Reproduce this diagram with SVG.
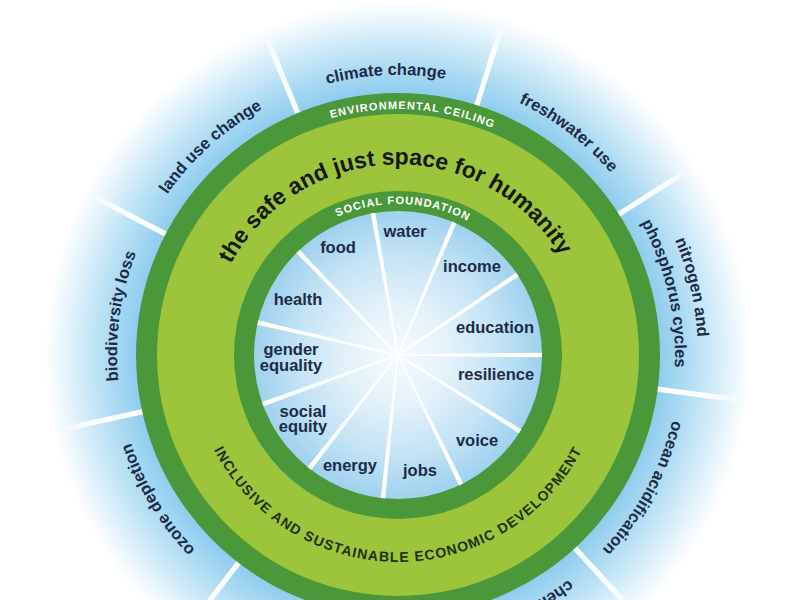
<svg xmlns="http://www.w3.org/2000/svg" width="800" height="600" viewBox="0 0 800 600">
<defs>
<style>
.lbl{font-family:"Liberation Sans",Arial,sans-serif;font-weight:bold;font-size:16.5px;fill:#1d2b47}
.ring-lbl{font-family:"Liberation Sans",Arial,sans-serif;font-weight:bold;font-size:11px;fill:#ffffff;letter-spacing:1.1px}
.big{font-family:"Liberation Sans",Arial,sans-serif;font-weight:bold;font-size:23px;fill:#141a0c}
.dev{font-family:"Liberation Sans",Arial,sans-serif;font-weight:bold;font-size:14px;fill:#1e3312;letter-spacing:1.1px}
.dark{fill:#4a983a}
.light{fill:#9cc53c}
</style>
<radialGradient id="outerG" gradientUnits="userSpaceOnUse" cx="398" cy="355" r="380">
<stop offset="0.69" stop-color="#8fcdee"/>
<stop offset="0.75" stop-color="#a9d9f2"/>
<stop offset="0.82" stop-color="#cae8f7"/>
<stop offset="0.88" stop-color="#e8f5fc"/>
<stop offset="0.93" stop-color="#ffffff"/>
</radialGradient>
<radialGradient id="innerG" gradientUnits="userSpaceOnUse" cx="398" cy="355" r="144">
<stop offset="0" stop-color="#f6fbfe"/>
<stop offset="0.35" stop-color="#e4f2fa"/>
<stop offset="0.7" stop-color="#c4e3f5"/>
<stop offset="1" stop-color="#9fd1ee"/>
</radialGradient>
<linearGradient id="sepG" x1="0" y1="1" x2="0" y2="0">
<stop offset="0" stop-color="#ffffff" stop-opacity="1"/>
<stop offset="0.7" stop-color="#ffffff" stop-opacity="0.95"/>
<stop offset="1" stop-color="#ffffff" stop-opacity="0.3"/>
</linearGradient>
<polygon id="spoke" points="-0.8,0 0.8,0 2.3,-144 -2.3,-144" fill="#ffffff"/>
<rect id="sep" x="-2.6" y="-342" width="5.2" height="84" fill="url(#sepG)"/>
<path id="p-climate" d="M247.6,118.8 A280,280 0 0 1 527.3,106.6"/>
<path id="p-fresh" d="M434.5,77.4 A280,280 0 0 1 656.7,247.8"/>
<path id="p-nitro1" d="M617.4,150.4 A300,300 0 0 1 684.9,442.7"/>
<path id="p-nitro2" d="M564.7,133.8 A277,277 0 0 1 644.8,480.8"/>
<path id="p-ocean" d="M679.9,347.6 A282,282 0 0 1 545.3,595.4"/>
<path id="p-chem" d="M621.7,526.7 A282,282 0 0 1 361.2,634.6"/>
<path id="p-ozone" d="M261.8,600.8 A281,281 0 0 1 117.0,359.9"/>
<path id="p-bio" d="M137.5,460.3 A281,281 0 0 1 176.6,182.0"/>
<path id="p-land" d="M130.8,268.2 A280,280 0 0 1 339.6,80.2"/>
<path id="p-env" d="M239.9,166.6 A246,246 0 0 1 577.9,187.2"/>
<path id="p-soc" d="M267.2,279.5 A151,151 0 0 1 533.7,288.8"/>
<path id="p-safe" d="M208,355 A190,190 0 0 1 587.8,345.7"/>
<path id="p-dev" d="M203.5,425.8 A207,207 0 0 0 592.5,425.8"/>
</defs>

<rect width="800" height="600" fill="#ffffff"/>

<g id="planetary-zone">
<circle cx="398" cy="355" r="380" fill="url(#outerG)"/>
</g>

<g id="connectors">
<g id="boundary-separators" transform="translate(398,355)">
<use href="#sep" transform="rotate(17.5)"/>
<use href="#sep" transform="rotate(57.5)"/>
<use href="#sep" transform="rotate(97.5)"/>
<use href="#sep" transform="rotate(137.5)"/>
<use href="#sep" transform="rotate(177.5)"/>
<use href="#sep" transform="rotate(217.5)"/>
<use href="#sep" transform="rotate(257.5)"/>
<use href="#sep" transform="rotate(297.5)"/>
<use href="#sep" transform="rotate(337.5)"/>
</g>
</g>

<g id="environmental-ceiling">
<circle class="dark" cx="398" cy="355" r="262"/>
<circle class="light" cx="398" cy="355" r="241"/>
<text class="ring-lbl"><textPath href="#p-env" startOffset="50%" text-anchor="middle">ENVIRONMENTAL CEILING</textPath></text>
</g>

<g id="safe-just-space">
<text class="big"><textPath href="#p-safe" startOffset="50%" text-anchor="middle">the safe and just space for humanity</textPath></text>
<text class="dev"><textPath href="#p-dev" startOffset="50%" text-anchor="middle">INCLUSIVE AND SUSTAINABLE ECONOMIC DEVELOPMENT</textPath></text>
</g>

<g id="social-foundation">
<circle class="dark" cx="398" cy="355" r="164"/>
<circle cx="398" cy="355" r="144" fill="url(#innerG)"/>
<text class="ring-lbl"><textPath href="#p-soc" startOffset="50%" text-anchor="middle">SOCIAL FOUNDATION</textPath></text>
</g>

<g id="social-spokes" transform="translate(398,355)">
<use href="#spoke" transform="rotate(-10)"/>
<use href="#spoke" transform="rotate(23)"/>
<use href="#spoke" transform="rotate(56)"/>
<use href="#spoke" transform="rotate(90)"/>
<use href="#spoke" transform="rotate(122)"/>
<use href="#spoke" transform="rotate(154)"/>
<use href="#spoke" transform="rotate(186)"/>
<use href="#spoke" transform="rotate(218)"/>
<use href="#spoke" transform="rotate(250)"/>
<use href="#spoke" transform="rotate(283)"/>
<use href="#spoke" transform="rotate(316)"/>
</g>

<g id="boundaries">
<g id="climate-change"><text class="lbl"><textPath href="#p-climate" startOffset="50%" text-anchor="middle">climate change</textPath></text></g>
<g id="freshwater-use"><text class="lbl"><textPath href="#p-fresh" startOffset="50%" text-anchor="middle">freshwater use</textPath></text></g>
<g id="nitrogen-phosphorus"><text class="lbl"><textPath href="#p-nitro1" startOffset="50%" text-anchor="middle">nitrogen and</textPath></text><text class="lbl"><textPath href="#p-nitro2" startOffset="50%" text-anchor="middle">phosphorus cycles</textPath></text></g>
<g id="ocean-acidification"><text class="lbl"><textPath href="#p-ocean" startOffset="50%" text-anchor="middle">ocean acidification</textPath></text></g>
<g id="chemical-pollution"><text class="lbl"><textPath href="#p-chem" startOffset="50%" text-anchor="middle">chemical pollution</textPath></text></g>
<g id="ozone-depletion"><text class="lbl"><textPath href="#p-ozone" startOffset="50%" text-anchor="middle">ozone depletion</textPath></text></g>
<g id="biodiversity-loss"><text class="lbl"><textPath href="#p-bio" startOffset="50%" text-anchor="middle">biodiversity loss</textPath></text></g>
<g id="land-use-change"><text class="lbl"><textPath href="#p-land" startOffset="50%" text-anchor="middle">land use change</textPath></text></g>
</g>

<g id="social-labels" text-anchor="middle">
<g id="water"><text class="lbl" x="405" y="237">water</text></g>
<g id="food"><text class="lbl" x="338" y="253">food</text></g>
<g id="income"><text class="lbl" x="472" y="272">income</text></g>
<g id="health"><text class="lbl" x="298" y="305">health</text></g>
<g id="education"><text class="lbl" x="495" y="333">education</text></g>
<g id="gender-equality"><text class="lbl" x="291" y="355">gender</text><text class="lbl" x="291" y="371">equality</text></g>
<g id="resilience"><text class="lbl" x="496" y="380">resilience</text></g>
<g id="social-equity"><text class="lbl" x="303" y="417">social</text><text class="lbl" x="303" y="432">equity</text></g>
<g id="voice"><text class="lbl" x="477" y="446">voice</text></g>
<g id="energy"><text class="lbl" x="350" y="471">energy</text></g>
<g id="jobs"><text class="lbl" x="420" y="476">jobs</text></g>
</g>
</svg>
